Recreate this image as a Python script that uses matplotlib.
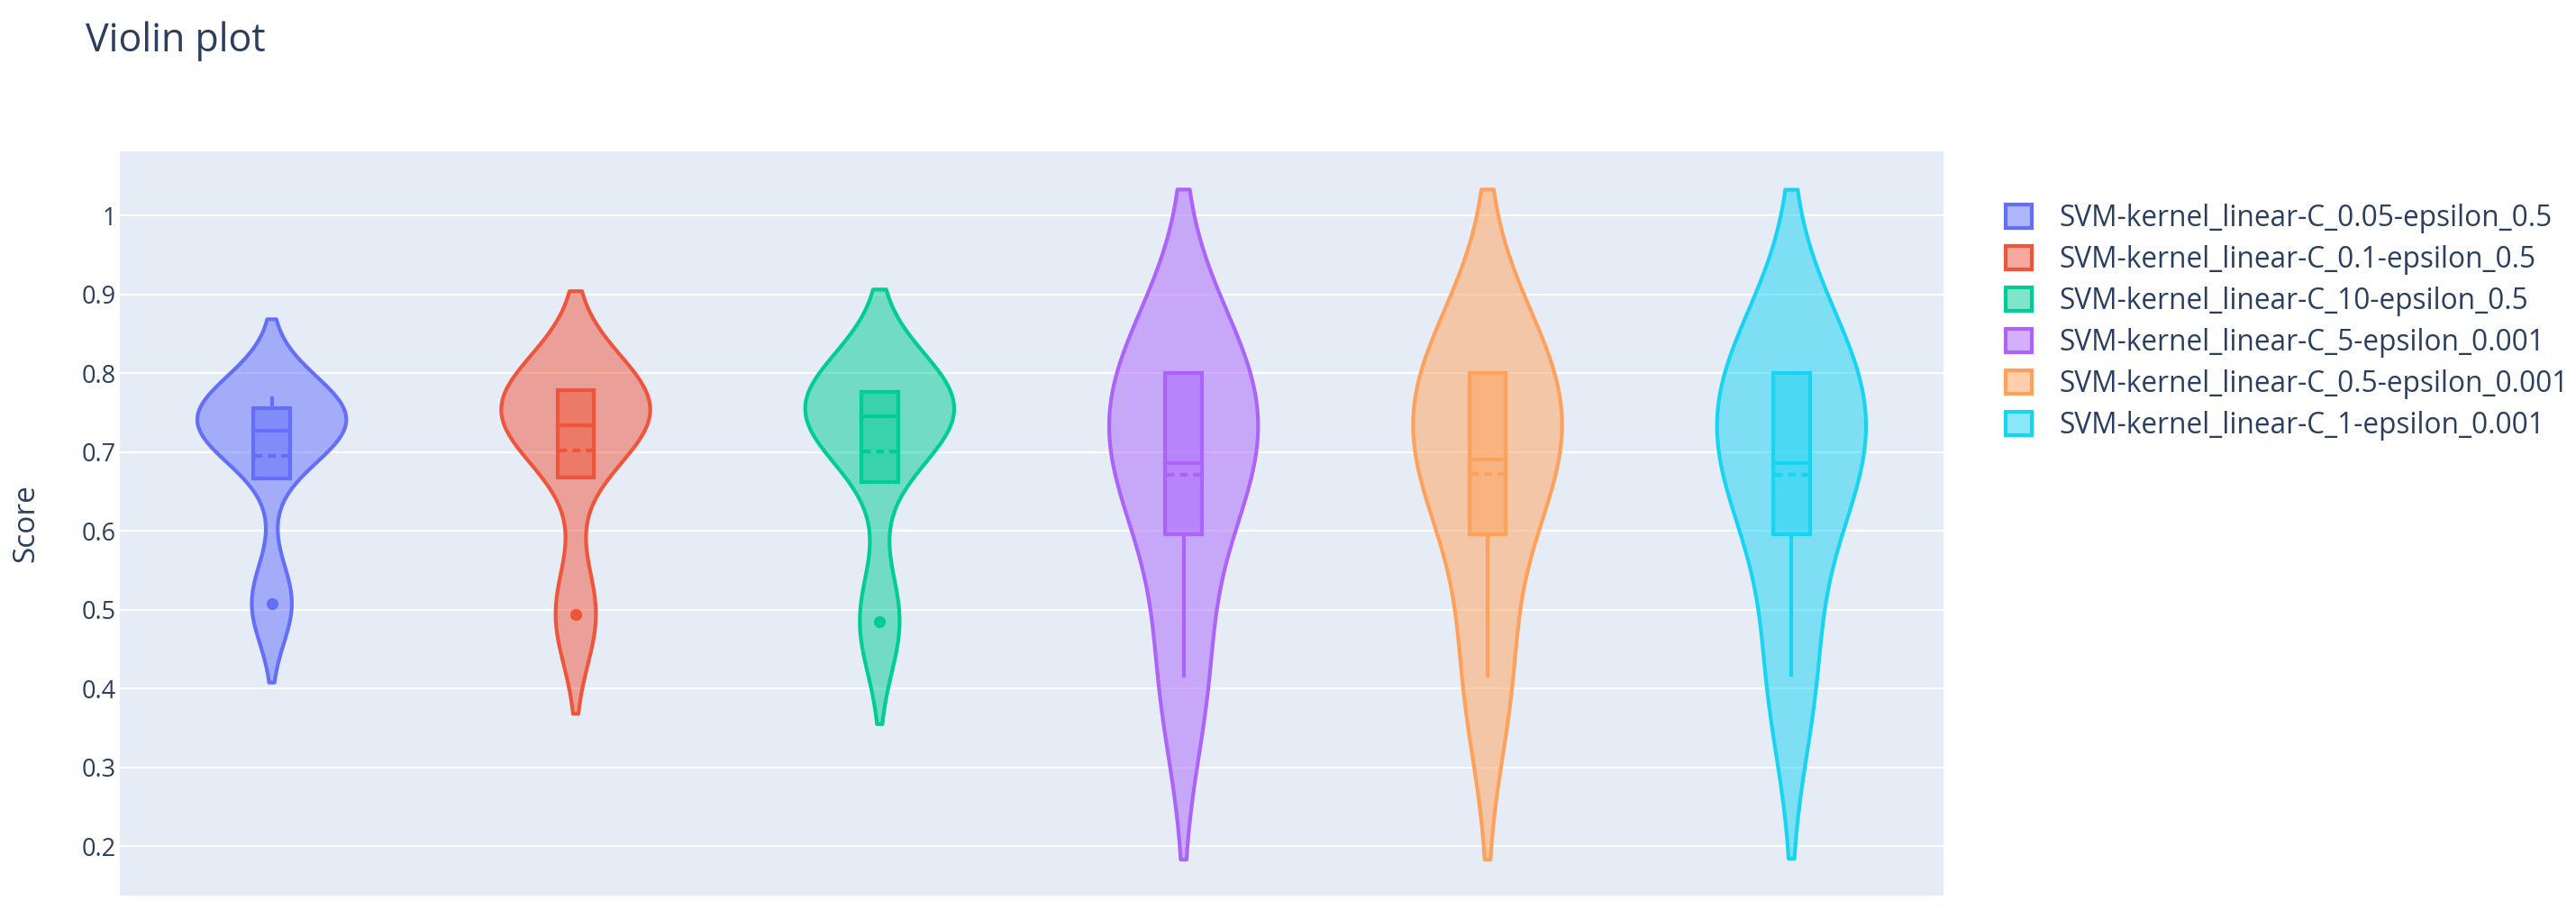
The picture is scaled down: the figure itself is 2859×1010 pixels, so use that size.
import numpy as np
import matplotlib.pyplot as plt
from matplotlib.mlab import GaussianKDE
from matplotlib.patches import Patch, Rectangle
from matplotlib.colors import to_rgba

plt.rcParams['font.family'] = ['Open Sans', 'DejaVu Sans']

# model names (legend order) and plotly default colours
model_names = [
    'SVM-kernel_linear-C_0.05-epsilon_0.5',
    'SVM-kernel_linear-C_0.1-epsilon_0.5',
    'SVM-kernel_linear-C_10-epsilon_0.5',
    'SVM-kernel_linear-C_5-epsilon_0.001',
    'SVM-kernel_linear-C_0.5-epsilon_0.001',
    'SVM-kernel_linear-C_1-epsilon_0.001',
]
colors = ['#636efa', '#EF553B', '#00cc96', '#ab63fa', '#FFA15A', '#19d3f3']

# 5 fold scores per model
scores_c005_e05 = [0.508, 0.720, 0.727, 0.751, 0.768]
scores_c01_e05 = [0.494, 0.725, 0.734, 0.778, 0.778]
scores_c10_e05 = [0.485, 0.7205, 0.7455, 0.776, 0.776]
scores_c5_e0001 = [0.416, 0.655, 0.686, 0.800, 0.800]
scores_c05_e0001 = [0.416, 0.655, 0.690, 0.800, 0.800]
scores_c1_e0001 = [0.417, 0.655, 0.686, 0.800, 0.800]
all_scores = [scores_c005_e05, scores_c01_e05, scores_c10_e05,
              scores_c5_e0001, scores_c05_e0001, scores_c1_e0001]

y_ticks = [0.2, 0.3, 0.4, 0.5, 0.6, 0.7, 0.8, 0.9, 1.0]
y_tick_labels = ['0.2', '0.3', '0.4', '0.5', '0.6', '0.7', '0.8', '0.9', '1']

TXT = '#2a3f5f'
LW = 3.0
HALF = 0.245   # violin half width (category units)
BOX = 0.06     # box half width


def box_stats(vals):
    v = np.sort(np.asarray(vals, dtype=float))
    # plotly 'linear' quartiles == numpy hazen
    q1, med, q3 = np.percentile(v, [25, 50, 75], method='hazen')
    iqr = q3 - q1
    inside = v[(v >= q1 - 1.5 * iqr) & (v <= q3 + 1.5 * iqr)]
    lf = min(q1, inside.min())
    uf = max(q3, inside.max())
    outl = v[(v < q1 - 1.5 * iqr) | (v > q3 + 1.5 * iqr)]
    return q1, med, q3, lf, uf, outl, v.mean(), iqr


fig = plt.figure(figsize=(28.59, 10.10), dpi=100)
ax = fig.add_axes([133 / 2859, 1 - 994 / 1010, 2024 / 2859, 826 / 1010])
ax.set_facecolor('#E5ECF6')

for i, (vals, c) in enumerate(zip(all_scores, colors)):
    q1, med, q3, lf, uf, outl, mean, iqr = box_stats(vals)
    arr = np.asarray(vals, dtype=float)
    sd = np.std(arr, ddof=1)
    # silverman bandwidth like plotly
    bw = 1.059 * min(sd, iqr / 1.349) * len(arr) ** -0.2
    grid = np.linspace(arr.min() - 2 * bw, arr.max() + 2 * bw, 300)
    dens = GaussianKDE(arr, bw_method=bw / sd).evaluate(grid)
    w = dens / dens.max() * HALF
    xs = np.concatenate([i - w, (i + w)[::-1]])
    ys = np.concatenate([grid, grid[::-1]])
    ax.fill(xs, ys, fc=to_rgba(c, 0.5), ec=c, lw=LW, joinstyle='round', zorder=3)

    ax.add_patch(Rectangle((i - BOX, q1), 2 * BOX, q3 - q1, fc=to_rgba(c, 0.5),
                           ec=c, lw=LW, zorder=4))
    ax.plot([i - BOX, i + BOX], [med, med], color=c, lw=LW, zorder=5)
    ax.plot([i - BOX + 0.006, i + BOX - 0.006], [mean, mean], color=c, lw=LW,
            ls=(0, (2, 1.5)), zorder=5)
    if lf < q1:
        ax.plot([i, i], [lf, q1], color=c, lw=LW, zorder=4)
    if uf > q3:
        ax.plot([i, i], [q3, uf], color=c, lw=LW, zorder=4)
    ax.plot([i] * len(outl), outl, 'o', ms=9.5, color=c, mec='none', zorder=6)

ax.set_xlim(-0.5, 5.5)
ax.set_ylim(0.1374, 1.0814)
ax.set_xticks([])
ax.set_yticks(y_ticks)
ax.set_yticklabels(y_tick_labels)
ax.tick_params(axis='y', length=0, pad=3, labelsize=19.5, labelcolor=TXT)
ax.grid(axis='y', color='white', lw=1.55)
ax.set_axisbelow(True)
for s in ax.spines.values():
    s.set_visible(False)

fig.text(29 / 2859, 1 - 581 / 1010, 'Score', rotation=90, ha='center', va='center',
         fontsize=24, color=TXT)
fig.text(95 / 2859, 1 - 57 / 1010, 'Violin plot', ha='left', va='baseline',
         fontsize=31, color=TXT)

handles = [Patch(facecolor=to_rgba(c, 0.5), edgecolor=c, lw=LW) for c in colors]
fig.legend(handles, model_names, loc='upper left',
           bbox_to_anchor=(2226 / 2859, 1 - 226 / 1010), frameon=False,
           fontsize=22.8, labelcolor=TXT, handlelength=0.92, handleheight=0.92,
           handletextpad=0.97, labelspacing=0.41, borderpad=0, borderaxespad=0)

fig.savefig('out.png', dpi=100, facecolor='white')
